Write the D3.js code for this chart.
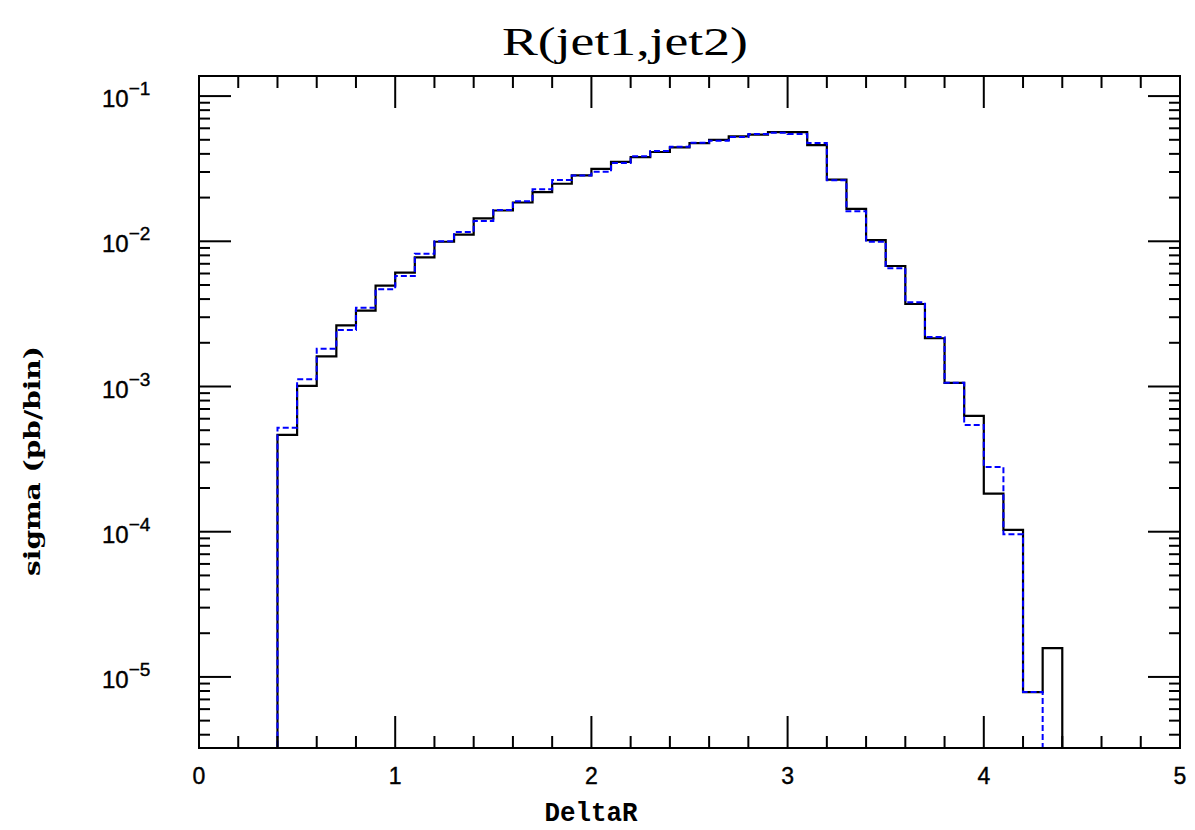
<!DOCTYPE html>
<html>
<head>
<meta charset="utf-8">
<script src="https://cdn.jsdelivr.net/npm/d3@7"></script>
<style>
  html, body { margin: 0; padding: 0; background: #fff; }
  svg { display: block; }
</style>
</head>
<body>
<svg id="chart" width="1195" height="830"></svg>
<script>
// ---------- data ----------
const title = "R(jet1,jet2)";
const xLabel = "DeltaR";
const yLabel = "sigma (pb/bin)";
const binWidth = 0.1;

// black solid histogram: first bin low edge and bin contents
const blackStart = 0.4;
const blackValues = [
  4.64e-4, 1.01e-3, 1.61e-3, 2.64e-3, 3.33e-3, 4.95e-3, 6.08e-3, 7.76e-3, 9.93e-3, 1.11e-2,
  1.44e-2, 1.63e-2, 1.85e-2, 2.18e-2, 2.49e-2, 2.84e-2, 3.15e-2, 3.52e-2, 3.80e-2, 4.12e-2,
  4.43e-2, 4.75e-2, 5.00e-2, 5.28e-2, 5.42e-2, 5.65e-2, 5.65e-2, 4.60e-2, 2.66e-2, 1.67e-2,
  1.02e-2, 6.76e-3, 3.70e-3, 2.15e-3, 1.06e-3, 6.28e-4, 1.83e-4, 1.03e-4, 7.87e-6, 1.58e-5
];

// blue dashed histogram
const blueStart = 0.3;
const blueValues = [
  0,
  5.19e-4, 1.12e-3, 1.82e-3, 2.45e-3, 3.49e-3, 4.67e-3, 5.77e-3, 8.22e-3, 1.00e-2, 1.16e-2,
  1.38e-2, 1.64e-2, 1.89e-2, 2.28e-2, 2.64e-2, 2.84e-2, 3.01e-2, 3.46e-2, 3.85e-2, 4.18e-2,
  4.48e-2, 4.78e-2, 4.93e-2, 5.22e-2, 5.48e-2, 5.58e-2, 5.48e-2, 4.75e-2, 2.63e-2, 1.61e-2,
  9.93e-3, 6.52e-3, 3.80e-3, 2.19e-3, 1.06e-3, 5.44e-4, 2.79e-4, 9.62e-5, 7.87e-6, 0
];

const xDomain = [0, 5];
const yDomain = [3.24e-6, 0.1375];
const xMajorTicks = [0, 1, 2, 3, 4, 5];
const yMajorExponents = [-1, -2, -3, -4, -5];

// ---------- layout ----------
const L = 199, R = 1180, T = 76, B = 748;
const svg = d3.select("#chart");

const x = d3.scaleLinear().domain(xDomain).range([L, R]);
const y = d3.scaleLog().domain(yDomain).range([B, T]);

svg.append("defs").append("clipPath").attr("id", "plotclip")
  .append("rect").attr("x", L).attr("y", T).attr("width", R - L).attr("height", B - T);

// histogram step paths
function histPoints(start, vals) {
  const pts = [[start, 0]];
  vals.forEach((v, i) => pts.push([start + i * binWidth, v]));
  pts.push([start + vals.length * binWidth, 0]);
  return pts;
}
const yv = v => v > 0 ? y(v) : B + 6;
const line = d3.line()
  .x(d => x(d[0]))
  .y(d => yv(d[1]))
  .curve(d3.curveStepAfter);

const g = svg.append("g").attr("clip-path", "url(#plotclip)");
g.append("path")
  .attr("d", line(histPoints(blackStart, blackValues)))
  .attr("fill", "none").attr("stroke", "#000").attr("stroke-width", 2.2);
g.append("path")
  .attr("d", line(histPoints(blueStart, blueValues)))
  .attr("fill", "none").attr("stroke", "#0000ff").attr("stroke-width", 2)
  .attr("stroke-dasharray", "6,3");

// frame
svg.append("rect").attr("x", L).attr("y", T).attr("width", R - L).attr("height", B - T)
  .attr("fill", "none").attr("stroke", "#000").attr("stroke-width", 2);

// ticks
const tickG = svg.append("g").attr("stroke", "#000").attr("stroke-width", 2);
const xMinor = d3.range(0, 25).map(i => i * 0.2).filter(v => Math.abs(v - Math.round(v)) > 1e-6);
xMinor.forEach(v => {
  tickG.append("line").attr("x1", x(v)).attr("x2", x(v)).attr("y1", B).attr("y2", B - 12);
  tickG.append("line").attr("x1", x(v)).attr("x2", x(v)).attr("y1", T).attr("y2", T + 12);
});
xMajorTicks.forEach(v => {
  tickG.append("line").attr("x1", x(v)).attr("x2", x(v)).attr("y1", B).attr("y2", B - 32);
  tickG.append("line").attr("x1", x(v)).attr("x2", x(v)).attr("y1", T).attr("y2", T + 32);
});
// y ticks
const yMinor = [];
for (let e = -6; e <= -1; e++) for (let m = 2; m <= 9; m++) {
  const v = m * Math.pow(10, e);
  if (v > yDomain[0] && v < yDomain[1]) yMinor.push(v);
}
yMinor.forEach(v => {
  tickG.append("line").attr("x1", L).attr("x2", L + 11).attr("y1", y(v)).attr("y2", y(v));
  tickG.append("line").attr("x1", R).attr("x2", R - 11).attr("y1", y(v)).attr("y2", y(v));
});
yMajorExponents.forEach(e => {
  const v = Math.pow(10, e);
  tickG.append("line").attr("x1", L).attr("x2", L + 32).attr("y1", y(v)).attr("y2", y(v));
  tickG.append("line").attr("x1", R).attr("x2", R - 32).attr("y1", y(v)).attr("y2", y(v));
});

// tick labels
const tickFont = "'Liberation Sans', Arial, sans-serif";
xMajorTicks.forEach(v => {
  svg.append("text").attr("x", x(v)).attr("y", B + 36)
    .attr("text-anchor", "middle").attr("font-family", tickFont).attr("font-size", 23)
    .attr("stroke", "#000").attr("stroke-width", 0.4)
    .text(v);
});
yMajorExponents.forEach(e => {
  const yy = y(Math.pow(10, e));
  const t = svg.append("text").attr("x", 102).attr("y", yy + 11)
    .attr("font-family", tickFont).attr("font-size", 24)
    .attr("stroke", "#000").attr("stroke-width", 0.4);
  t.append("tspan").text("10");
  t.append("tspan").attr("dy", -12).attr("font-size", 19).text("\u2212" + Math.abs(e));
});

// axis titles
svg.append("text").attr("x", 591).attr("y", 821)
  .attr("text-anchor", "middle")
  .attr("font-family", "'Liberation Mono', 'DejaVu Sans Mono', monospace")
  .attr("font-weight", "bold").attr("font-size", 27)
  .attr("textLength", 93).attr("lengthAdjust", "spacingAndGlyphs")
  .text(xLabel);

svg.append("text")
  .attr("transform", "translate(40,461) rotate(-90)")
  .attr("text-anchor", "middle")
  .attr("font-family", "'DejaVu Serif', 'Liberation Serif', serif")
  .attr("font-weight", "bold").attr("font-size", 22)
  .attr("textLength", 230).attr("lengthAdjust", "spacingAndGlyphs")
  .text(yLabel);

// title
svg.append("text").attr("x", 625).attr("y", 55)
  .attr("text-anchor", "middle")
  .attr("font-family", "'Liberation Serif', 'DejaVu Serif', serif")
  .attr("font-size", 40)
  .attr("textLength", 246).attr("lengthAdjust", "spacingAndGlyphs")
  .text(title);
</script>
</body>
</html>
